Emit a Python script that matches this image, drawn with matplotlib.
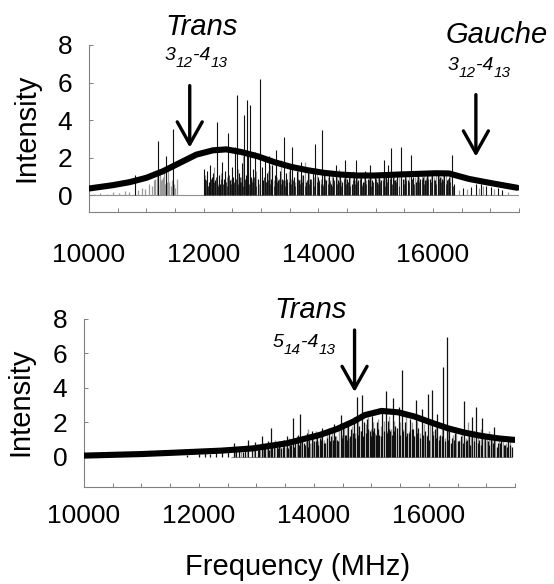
import matplotlib
matplotlib.use("Agg")
import matplotlib.pyplot as plt
from matplotlib.ticker import MultipleLocator, FixedLocator

plt.rcParams['font.family'] = ['Liberation Sans', 'DejaVu Sans']

# ---------------- data ----------------
xticks = [10000, 12000, 14000, 16000]
xtick_labels = ["10000", "12000", "14000", "16000"]
yticks = [0, 2, 4, 6, 8]

# top panel: spectrum lines (black)
top_black_freq = [10801, 11208, 11341, 11469,
    12003, 12030, 12060, 12090, 12110, 12140, 12170, 12200, 12236, 12260, 12290, 12320, 12350, 12380,
    12430, 12460, 12490, 12520, 12550, 12584, 12610, 12640, 12670, 12706, 12730, 12748, 12780, 12805,
    12830, 12860, 12900, 12940, 12979, 13010, 13040, 13070, 13100, 13140, 13170, 13200, 13240, 13270,
    13300, 13330, 13360, 13397, 13430, 13460, 13500, 13548, 13580, 13620, 13660, 13700, 13740, 13780,
    13820, 13860, 13900, 13948, 13990, 14020, 14064, 14100, 14140, 14180, 14220, 14260, 14300, 14340,
    14380, 14420, 14460, 14500, 14540, 14580, 14620, 14660, 14700, 14740, 14780, 14820, 14860, 14900,
    14940, 14980, 15020, 15060, 15100, 15140, 15180, 15220, 15273, 15300, 15340, 15380, 15435, 15470,
    15510, 15560, 15609, 15650, 15700, 15740, 15780, 15820, 15860, 15900, 15940, 15990, 16040, 16080,
    16120, 16160, 16200, 16240, 16280, 16336, 16370, 16521, 16667, 16754, 16841, 16928, 17015, 17125,
    17212]
top_black_int = [1.1, 2.88, 2.08, 3.54,
    1.4, 0.9, 1.3, 0.7, 1.6, 1.0, 1.2, 0.8, 3.9, 1.1, 0.6, 1.8, 0.9, 1.3,
    3.3, 0.8, 1.5, 1.0, 2.6, 5.35, 1.2, 0.7, 1.7, 4.3, 1.1, 5.05, 2.1, 4.8,
    1.0, 1.4, 2.3, 0.9, 6.2, 1.5, 0.8, 1.9, 1.2, 2.1, 0.9, 1.6, 1.1, 2.4,
    0.8, 1.3, 0.9, 3.1, 1.2, 0.7, 1.5, 2.6, 1.0, 1.3, 0.8, 1.8, 1.1, 0.7,
    1.4, 0.9, 1.2, 2.75, 1.0, 0.7, 3.5, 1.1, 0.8, 1.3, 0.6, 1.0, 1.6, 0.8,
    1.1, 0.7, 1.9, 0.9, 1.2, 0.6, 1.0, 1.9, 0.8, 1.1, 0.7, 1.3, 0.9, 1.6,
    0.8, 1.2, 0.7, 1.0, 0.8, 1.9, 1.1, 1.6, 2.5, 1.0, 0.8, 1.2, 2.55, 0.9,
    1.1, 0.8, 2.15, 1.0, 0.7, 1.1, 0.9, 1.0, 0.8, 1.2, 0.9, 1.1, 0.8, 1.2,
    1.0, 0.9, 1.1, 0.8, 1.0, 2.15, 0.6, 0.4, 0.45, 0.6, 0.6, 0.5, 0.45, 0.4,
    0.3]

# top panel: short black lines forming the dense base
top_base_freq = [12020, 12045, 12075, 12125, 12155, 12185, 12215, 12250, 12275, 12305, 12335, 12365,
    12395, 12415, 12445, 12475, 12505, 12535, 12565, 12595, 12625, 12655, 12685, 12715, 12760, 12790,
    12815, 12845, 12875, 12915, 12955, 12990, 13025, 13055, 13085, 13120, 13155, 13185, 13220, 13255,
    13285, 13315, 13345, 13380, 13415, 13445, 13480, 13520, 13565, 13600, 13640, 13680, 13720, 13760,
    13800, 13840, 13880, 13920, 13970, 14005, 14045, 14085, 14120, 14160, 14200, 14240, 14280, 14320,
    14360, 14400, 14440, 14480, 14520, 14560, 14600, 14640, 14680, 14720, 14760, 14800, 14840, 14880,
    14920, 14960, 15000, 15040, 15080, 15120, 15160, 15200, 15245, 15285, 15320, 15360, 15410, 15450,
    15490, 15535, 15585, 15625, 15670, 15720, 15760, 15800, 15840, 15880, 15920, 15965, 16015, 16060,
    16100, 16140, 16180, 16220, 16260, 16300, 16350]
top_base_int = [0.6, 0.8, 0.5, 0.9, 0.6, 0.7, 1.0, 0.5, 0.8, 0.9, 0.6, 1.0,
    0.7, 0.5, 1.1, 0.6, 0.8, 0.7, 0.9, 0.6, 1.0, 0.7, 0.5, 0.9, 0.8, 0.6,
    0.9, 0.7, 1.0, 0.5, 0.8, 0.9, 0.6, 1.0, 0.7, 0.8, 0.6, 1.0, 0.5, 0.8,
    0.7, 0.9, 0.6, 0.8, 0.5, 0.9, 0.7, 0.6, 0.8, 0.5, 0.9, 0.6, 0.7, 0.5,
    0.8, 0.6, 0.9, 0.5, 0.7, 0.8, 0.6, 0.5, 0.9, 0.6, 0.7, 0.5, 0.8, 0.6,
    0.7, 0.5, 0.9, 0.6, 0.7, 0.5, 0.8, 0.6, 0.7, 0.9, 0.5, 0.7, 0.6, 0.8,
    0.5, 0.7, 0.9, 0.6, 0.7, 0.8, 0.5, 0.7, 0.9, 0.6, 0.8, 0.7, 0.5, 0.9,
    0.6, 0.8, 0.7, 0.9, 0.6, 0.8, 0.7, 0.9, 0.6, 0.8, 0.9, 0.7, 0.8, 0.6,
    0.9, 0.7, 0.8, 0.6, 0.9, 0.7, 0.5]

# top panel: spectrum lines (gray)
top_gray_freq = [10080, 10200, 10310, 10420, 10530, 10620, 10700, 10850, 10920, 10980, 11050, 11100,
    11140, 11150, 11180, 11200, 11230, 11240, 11260, 11270, 11290, 11300, 11320, 11360, 11380, 11400,
    11430, 11440, 11480, 11500, 11530,
    12015, 12075, 12125, 12185, 12245, 12305, 12365, 12405, 12475, 12535, 12595, 12655, 12690, 12720,
    12765, 12845, 12880, 12920, 12960, 13025, 13085, 13120, 13155, 13220, 13285, 13345, 13415, 13480,
    13525, 13600, 13640, 13680, 13720, 13760, 13800, 13840, 13880, 13925, 13970, 14040, 14080, 14120,
    14160, 14200, 14240, 14280, 14320, 14360, 14400, 14440, 14480, 14520, 14560, 14600, 14640, 14680,
    14720, 14760, 14800, 14840, 14880, 14920, 14960, 15000, 15040, 15080, 15120, 15160, 15200, 15250,
    15320, 15360, 15400, 15450, 15490, 15530, 15580, 15630, 15680, 15720, 15760, 15800, 15840, 15880,
    15920, 15960, 16010, 16060, 16100, 16140, 16180, 16220, 16260, 16300, 16450, 16600, 16800, 16880,
    17060, 17300]
top_gray_int = [0.1, 0.15, 0.1, 0.2, 0.15, 0.25, 0.2, 0.3, 0.4, 0.35, 0.6, 0.5,
    0.8, 0.9, 1.2, 1.1, 1.4, 0.6, 0.8, 0.9, 1.0, 1.2, 0.6, 0.7, 1.3, 0.7,
    0.5, 0.8, 0.6, 0.4, 0.9,
    1.1, 0.5, 0.9, 1.5, 0.6, 1.2, 0.7, 1.0, 0.9, 0.6, 1.4, 1.0, 2.1, 0.8,
    1.2, 0.9, 0.7, 1.3, 0.6, 1.0, 0.7, 1.3, 1.6, 0.8, 1.0, 1.9, 0.8, 1.3,
    0.9, 0.7, 1.5, 0.9, 1.1, 1.8, 0.8, 1.2, 0.7, 1.0, 1.3, 0.9, 0.6, 1.2,
    1.0, 0.8, 1.3, 0.7, 1.0, 1.4, 0.8, 1.0, 1.2, 0.7, 1.0, 1.3, 0.8, 1.0,
    1.2, 0.6, 1.1, 0.8, 1.0, 1.2, 0.7, 1.0, 1.2, 0.9, 1.0, 1.2, 0.9, 1.1,
    1.2, 0.9, 1.0, 1.2, 0.9, 1.0, 1.1, 0.9, 1.0, 1.2, 1.0, 1.1, 1.2, 1.0,
    1.1, 1.2, 1.0, 1.1, 1.2, 1.0, 1.1, 1.2, 0.9, 1.1, 0.3, 0.35, 0.4, 0.5,
    0.35, 0.2]

# top panel: envelope curve
top_curve_freq = [10000, 10423, 10713, 11002, 11292, 11582, 11872, 12162, 12394, 12655, 12945, 13235,
    13525, 13815, 14105, 14395, 14685, 14975, 15467, 16047, 16278, 16626, 16917, 17206, 17467]
top_curve_int = [0.37, 0.55, 0.71, 0.94, 1.29, 1.73, 2.17, 2.40, 2.45, 2.31, 2.08, 1.77,
    1.52, 1.34, 1.20, 1.11, 1.06, 1.06, 1.12, 1.18, 1.17, 0.88, 0.71, 0.55, 0.41]

# bottom panel: spectrum lines (black)
bot_black_freq = [11800, 12000, 12110, 12200, 12300, 12400, 12500,
    12603, 12650, 12700, 12760, 12800, 12860, 12920, 12982, 13040, 13098, 13150, 13200, 13255, 13300,
    13350, 13388, 13430, 13480, 13533, 13580, 13638, 13680, 13720, 13754, 13800, 13840, 13882, 13920,
    13960, 14000, 14057, 14100, 14150, 14200, 14259, 14300, 14350, 14400, 14464, 14510, 14560, 14600,
    14650, 14700, 14743, 14790, 14842, 14880, 14929, 14970, 15010, 15050, 15100, 15140, 15191, 15248,
    15290, 15330, 15376, 15420, 15475, 15527, 15580, 15620, 15680, 15720, 15771, 15820, 15888, 15940,
    15992, 16050, 16100, 16149, 16200, 16254, 16312, 16360, 16400, 16450, 16500, 16560, 16608, 16660,
    16700, 16760, 16817, 16870, 16934, 16980, 17030, 17080, 17136, 17200, 17260, 17320, 17380, 17440]
bot_black_int = [0.1, 0.15, 0.3, 0.2, 0.35, 0.3, 0.4,
    0.8, 0.4, 0.5, 0.3, 0.6, 1.0, 0.5, 0.85, 0.6, 1.2, 0.5, 0.9, 1.7, 0.6,
    0.8, 0.9, 0.5, 1.0, 1.2, 0.7, 2.25, 0.9, 1.3, 2.5, 1.1, 0.7, 1.4, 1.0,
    1.5, 0.9, 1.4, 1.1, 1.7, 0.8, 1.7, 1.2, 1.9, 1.0, 2.45, 1.9, 1.3, 2.1,
    1.6, 2.3, 3.5, 1.8, 3.6, 2.0, 2.2, 1.5, 2.4, 1.7, 2.0, 1.3, 2.6, 3.85,
    2.1, 1.5, 3.4, 1.8, 2.9, 5.05, 2.0, 1.4, 2.2, 1.6, 3.3, 1.7, 2.8, 1.5,
    3.65, 3.9, 1.6, 2.5, 1.3, 5.2, 6.95, 1.5, 1.1, 1.4, 0.9, 1.2, 3.25, 1.0,
    1.3, 2.3, 2.9, 1.0, 2.25, 1.1, 0.9, 1.2, 1.75, 0.8, 1.0, 0.7, 0.9, 0.6]

# bottom panel: short black lines forming the dense base
bot_base_freq = [13020, 13130, 13215, 13280, 13370, 13455, 13545, 13600, 13660, 13740, 13820, 13900,
    13975, 14030, 14080, 14125, 14180, 14225, 14275, 14330, 14375, 14420, 14485, 14535, 14585, 14625,
    14675, 14715, 14765, 14815, 14860, 14905, 14950, 14990, 15035, 15075, 15120, 15165, 15215, 15265,
    15310, 15355, 15400, 15445, 15495, 15555, 15600, 15650, 15700, 15745, 15795, 15845, 15900, 15960,
    16010, 16070, 16125, 16175, 16225, 16285, 16335, 16390, 16440, 16520, 16590, 16650, 16720, 16790,
    16850, 16910, 16970, 17050, 17110, 17180, 17240, 17300, 17360, 17420]
bot_base_int = [0.4, 0.5, 0.4, 0.6, 0.5, 0.6, 0.5, 0.7, 0.6, 0.7, 0.8, 0.6,
    0.8, 0.9, 0.7, 1.0, 0.8, 1.1, 0.9, 1.0, 1.2, 0.9, 1.1, 1.3, 1.0, 1.2,
    1.4, 1.1, 1.3, 1.5, 1.2, 1.4, 1.6, 1.2, 1.5, 1.3, 1.6, 1.2, 1.5, 1.4,
    1.6, 1.3, 1.5, 1.7, 1.3, 1.5, 1.2, 1.4, 1.6, 1.2, 1.4, 1.1, 1.3, 1.2,
    1.0, 1.3, 1.1, 1.0, 1.2, 0.9, 1.0, 0.8, 1.0, 0.9, 0.8, 0.9, 0.7, 0.9,
    0.8, 0.7, 0.9, 0.7, 0.8, 0.6, 0.8, 0.7, 0.6, 0.7]

# bottom panel: spectrum lines (gray)
bot_gray_freq = [12620, 12730, 12830, 12950, 13070, 13120, 13180, 13230, 13320, 13410, 13460, 13510,
    13560, 13610, 13700, 13780, 13860, 13900, 13940, 13980, 14030, 14080, 14120, 14170, 14230, 14280,
    14320, 14380, 14430, 14490, 14530, 14580, 14620, 14670, 14720, 14760, 14820, 14900, 14950, 14990,
    15030, 15070, 15120, 15160, 15220, 15270, 15310, 15350, 15400, 15450, 15500, 15550, 15600, 15650,
    15700, 15750, 15800, 15850, 15910, 15960, 16020, 16075, 16120, 16180, 16230, 16280, 16340, 16420,
    16480, 16530, 16580, 16640, 16680, 16730, 16790, 16850, 16900, 16960, 17010, 17050, 17100, 17160,
    17230, 17290, 17350, 17410]
bot_gray_int = [0.6, 0.4, 0.5, 0.7, 0.4, 0.8, 0.6, 0.5, 1.0, 0.7, 1.0, 0.6,
    1.1, 0.8, 1.2, 1.0, 0.9, 1.6, 0.8, 1.2, 1.5, 0.9, 1.3, 1.0, 1.4, 0.9,
    1.6, 1.2, 1.8, 1.3, 1.7, 2.0, 1.1, 1.8, 1.4, 2.2, 1.5, 1.9, 2.3, 1.6,
    2.0, 1.4, 2.2, 1.8, 2.1, 1.5, 2.4, 1.6, 2.1, 1.3, 2.0, 1.6, 2.5, 1.5,
    2.0, 1.2, 2.1, 1.4, 1.9, 1.3, 2.2, 1.5, 2.0, 1.2, 1.8, 1.1, 1.7, 1.3,
    1.6, 1.0, 1.4, 1.1, 2.0, 1.2, 1.5, 1.2, 1.6, 1.4, 1.1, 1.5, 1.0, 1.2,
    1.0, 1.1, 0.8, 1.0]

# bottom panel: envelope curve
bot_curve_freq = [10000, 11000, 11580, 12395, 12945, 13525, 14105, 14400, 14685, 14887, 15177, 15467,
    15757, 16047, 16337, 16627, 16917, 17207, 17497]
bot_curve_int = [0.08, 0.17, 0.25, 0.37, 0.50, 0.79, 1.28, 1.62, 2.05, 2.43, 2.67, 2.59,
    2.34, 1.99, 1.66, 1.41, 1.22, 1.08, 0.99]

# annotation labels: (main, subscript) pieces
label_top_trans = [("3", "12"), ("-4", "13")]
label_gauche = [("3", "12"), ("-4", "13")]
label_bot_trans = [("5", "14"), ("-4", "13")]

# ---------------- figure ----------------
W, H = 554, 584
fig = plt.figure(figsize=(W / 100, H / 100), dpi=100)

def fx(px):
    return px / W

def fy(py):
    return 1 - py / H

ax1 = fig.add_axes([fx(89), fy(212), fx(519) - fx(89), fy(45) - fy(212)])
ax2 = fig.add_axes([fx(84), fy(487), fx(515) - fx(84), fy(319) - fy(487)])

axis_gray = '#808080'

def style(ax, ylo, xpad):
    ax.set_xlim(10000, 17500)
    ax.set_ylim(ylo, 8)
    for s in ['top', 'right']:
        ax.spines[s].set_visible(False)
    for s in ['left', 'bottom']:
        ax.spines[s].set_color(axis_gray)
        ax.spines[s].set_linewidth(0.8)
    ax.xaxis.set_major_locator(FixedLocator(xticks))
    ax.set_xticklabels(xtick_labels)
    ax.xaxis.set_minor_locator(MultipleLocator(500))
    ax.yaxis.set_major_locator(FixedLocator(yticks))
    ax.set_yticklabels([str(t) for t in yticks])
    ax.tick_params(axis='x', which='both', direction='in', length=3, width=0.7,
                   color=axis_gray, labelsize=19, pad=xpad)
    ax.tick_params(axis='y', which='major', direction='in', length=3, width=0.7,
                   color=axis_gray, labelsize=19, pad=12)
    ax.patch.set_alpha(0)

style(ax1, -0.88, 22)
style(ax2, -1.74, 12)

gray = '#9a9a9a'
black = '#111111'

# top panel
ax1.axhline(0, color='#909090', lw=0.8, zorder=1)
ax1.vlines(top_gray_freq, 0, top_gray_int, color=gray, lw=0.9, zorder=2)
ax1.vlines(top_base_freq, 0, top_base_int, color=black, lw=0.55, zorder=3)
ax1.vlines(top_black_freq, 0, top_black_int, color=black, lw=0.8, zorder=3)
ax1.plot(top_curve_freq, top_curve_int, color='black', lw=4.4,
         solid_capstyle='round', solid_joinstyle='round', zorder=5)

# bottom panel
ax2.hlines(0, 12550, 17450, color='#909090', lw=0.8, zorder=1)
ax2.vlines(bot_gray_freq, 0, bot_gray_int, color=gray, lw=1.0, zorder=2)
ax2.vlines(bot_base_freq, 0, bot_base_int, color=black, lw=0.9, zorder=3)
ax2.vlines(bot_black_freq, 0, bot_black_int, color=black, lw=0.9, zorder=3)
ax2.plot(bot_curve_freq, bot_curve_int, color='black', lw=4.4,
         solid_capstyle='round', solid_joinstyle='round', zorder=5)

# arrows
arrow_kw = dict(arrowstyle='->,head_length=0.8,head_width=0.45', lw=2.4, color='black',
                mutation_scale=20, shrinkA=0, shrinkB=0)
ax1.annotate('', xy=(11757, 2.55), xytext=(11757, 5.84), arrowprops=arrow_kw, annotation_clip=False)
ax1.annotate('', xy=(16748, 2.07), xytext=(16748, 5.36), arrowprops=arrow_kw, annotation_clip=False)
ax2.annotate('', xy=(14708, 3.77), xytext=(14708, 7.36), arrowprops=arrow_kw, annotation_clip=False)

# annotation text
fig.text(fx(202), fy(35), 'Trans', fontsize=21, fontstyle='italic', ha='center', va='baseline')
fig.text(fx(497), fy(43), 'Gauche', fontsize=21, fontstyle='italic', ha='center', va='baseline')
fig.text(fx(311), fy(318), 'Trans', fontsize=21, fontstyle='italic', ha='center', va='baseline')

renderer = fig.canvas.get_renderer()

def sub_label(pieces, cx_px, base_px, main_size=14, sub_size=11, drop_px=7):
    items = []
    for main, sub in pieces:
        items.append((main, main_size, 0))
        items.append((sub, sub_size, drop_px))
    texts = []
    widths = []
    for s, size, drop in items:
        t = fig.text(0, 0, s, fontsize=size, fontstyle='italic', ha='left', va='baseline')
        w = t.get_window_extent(renderer).width
        texts.append((t, drop))
        widths.append(w)
    total = sum(widths)
    x = cx_px - total / 2
    for (t, drop), w in zip(texts, widths):
        t.set_position((fx(x), fy(base_px + drop)))
        x += w

sub_label(label_top_trans, 196, 60)
sub_label(label_gauche, 479, 70)
sub_label(label_bot_trans, 304, 347)

# axis labels
fig.text(fx(26), fy(128), 'Intensity', fontsize=21, rotation=90, ha='center', va='center')
fig.text(fx(20), fy(402), 'Intensity', fontsize=21, rotation=90, ha='center', va='center')
fig.text(fx(298), fy(567), 'Frequency (MHz)', fontsize=21, ha='center', va='center')

fig.savefig('out.png', dpi=100)
